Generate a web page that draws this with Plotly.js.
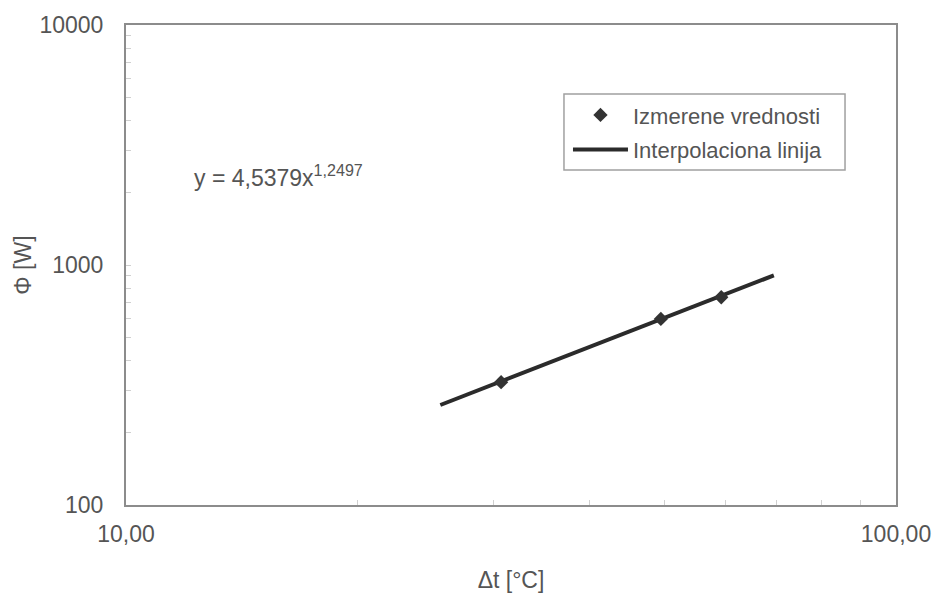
<!DOCTYPE html>
<html>
<head>
<meta charset="utf-8">
<script src="https://cdn.plot.ly/plotly-3.0.1.min.js"></script>
<style>html,body{margin:0;padding:0;background:#fff;}#chart{width:935px;height:595px;}</style>
</head>
<body>
<div id="chart"></div>
<script>
// Measured points
var measuredX = [30.7, 49.5, 59.3];
var measuredY = [325, 596, 734];
// Interpolation line end points (power-law fit)
var lineX = [25.6, 69.4];
var lineY = [261, 905];
// Tick labels
var xTickVals = [10, 20, 30, 40, 50, 60, 70, 80, 90, 100];
var xTickText = ['10,00', '', '', '', '', '', '', '', '', '100,00'];
var yTickVals = [100, 200, 300, 400, 500, 600, 700, 800, 900, 1000, 2000, 3000, 4000, 5000, 6000, 7000, 8000, 9000, 10000];
var yTickText = ['100', '', '', '', '', '', '', '', '', '1000', '', '', '', '', '', '', '', '', '10000'];
var equationText = 'y = 4,5379x<sup>1,2497</sup>';

var font = 'Liberation Sans, Arial, sans-serif';
var txt = '#555555';

var traces = [
  {
    x: lineX, y: lineY, type: 'scatter', mode: 'lines',
    name: 'Interpolaciona linija',
    line: {color: '#2b2b2b', width: 4},
    legendrank: 2, legendgroup: 'b'
  },
  {
    x: measuredX, y: measuredY, type: 'scatter', mode: 'markers',
    name: 'Izmerene vrednosti',
    marker: {symbol: 'diamond', size: 11, color: '#333333'},
    legendrank: 1, legendgroup: 'a'
  }
];

var layout = {
  width: 935, height: 595,
  margin: {l: 126, r: 39, t: 25, b: 90},
  paper_bgcolor: '#ffffff', plot_bgcolor: '#ffffff',
  font: {family: font, color: txt, size: 22},
  showlegend: true,
  legend: {
    x: 0.574, y: 0.856, xanchor: 'left', yanchor: 'top',
    borderwidth: 0, bgcolor: 'rgba(0,0,0,0)',
    font: {family: font, size: 22, color: txt},
    traceorder: 'grouped', tracegroupgap: 3,
    itemwidth: 55
  },
  shapes: [
    {
      type: 'rect', xref: 'paper', yref: 'paper',
      x0: 0.5688, x1: 0.9338, y0: 0.698, y1: 0.8563,
      line: {color: '#a0a0a0', width: 1.5}, fillcolor: 'rgba(0,0,0,0)',
      layer: 'above'
    }
  ],
  xaxis: {
    type: 'log', range: [1, 2],
    tickvals: xTickVals, ticktext: xTickText,
    ticks: 'inside', ticklen: 5, tickcolor: '#d0d0d0', tickwidth: 1,
    showgrid: false, zeroline: false,
    showline: true, linecolor: '#8c8c8c', linewidth: 2, mirror: true,
    tickfont: {family: font, size: 23, color: txt},
    ticklabelstandoff: 7,
    title: {text: 'Δt [°C]', font: {family: font, size: 23, color: txt}, standoff: 26}
  },
  yaxis: {
    type: 'log', range: [2, 4],
    tickvals: yTickVals, ticktext: yTickText,
    ticks: 'inside', ticklen: 5, tickcolor: '#d0d0d0', tickwidth: 1,
    showgrid: false, zeroline: false,
    showline: true, linecolor: '#8c8c8c', linewidth: 2, mirror: true,
    tickfont: {family: font, size: 23, color: txt},
    ticklabelstandoff: 16,
    title: {text: 'Φ [W]', font: {family: font, size: 23, color: txt}, standoff: 1}
  },
  annotations: [
    {
      xref: 'paper', yref: 'paper', x: 0.0857, y: 0.686,
      xanchor: 'left', yanchor: 'middle', showarrow: false,
      text: equationText,
      font: {family: font, size: 23, color: txt}
    }
  ]
};

Plotly.newPlot('chart', traces, layout, {displayModeBar: false, staticPlot: true});
</script>
</body>
</html>
